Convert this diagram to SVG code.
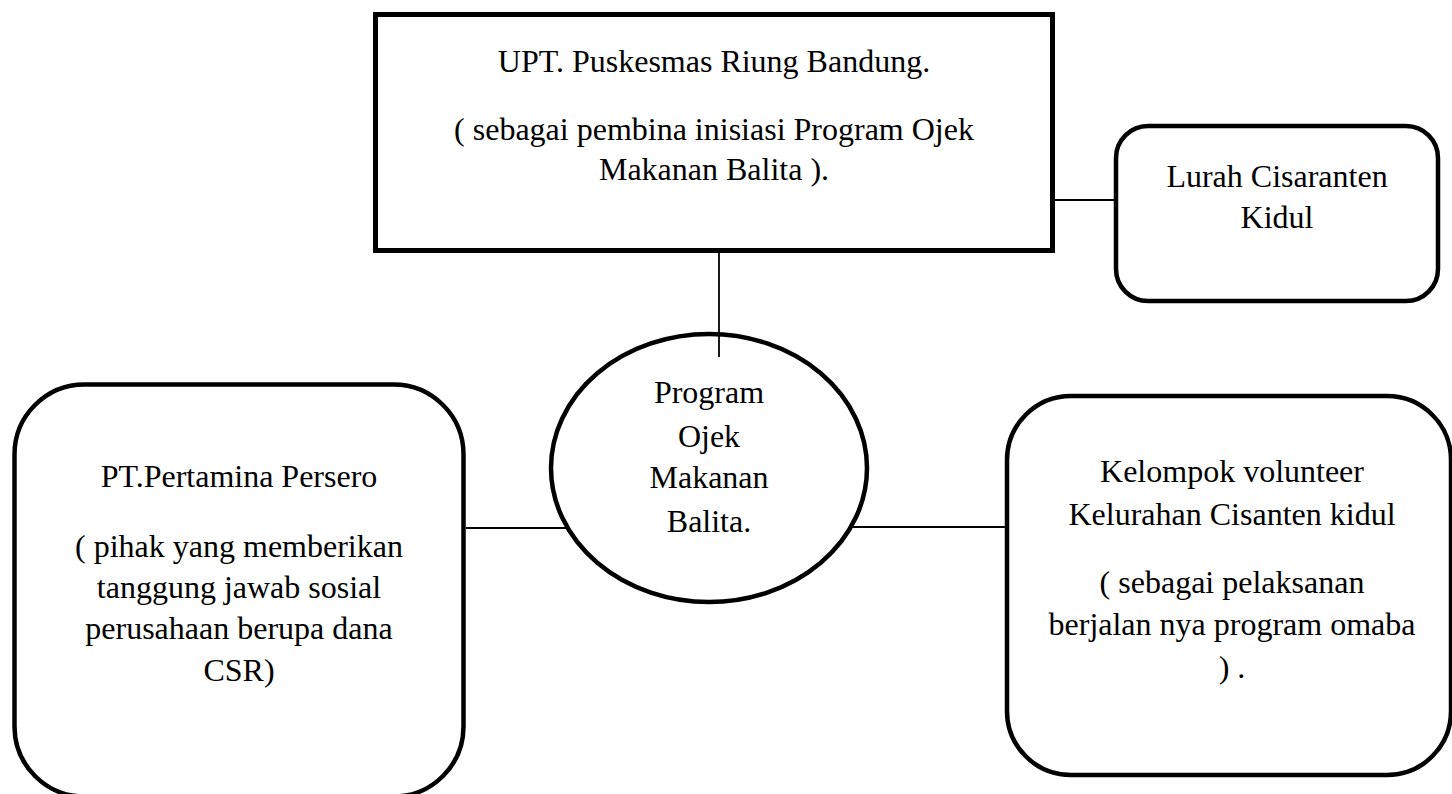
<svg xmlns="http://www.w3.org/2000/svg" width="1452" height="794" viewBox="0 0 1452 794">
<style>
.box{fill:#fff;stroke:#000;stroke-width:4.5}
.conn line{stroke:#000;stroke-width:1.8}
text{font-family:"Liberation Serif",Tinos,"Times New Roman","DejaVu Serif",serif;font-size:32px;fill:#000;text-anchor:middle}
</style>
<rect width="1452" height="794" fill="#fff"/>
<g id="node-upt">
<rect class="box" x="375.5" y="14.5" width="677" height="236" style="stroke-width:5"/>
<text x="714" y="72">UPT. Puskesmas Riung Bandung.</text>
<text x="714" y="140">( sebagai pembina inisiasi Program Ojek</text>
<text x="714" y="180">Makanan Balita ).</text>
</g>
<g id="node-lurah">
<rect class="box" x="1116" y="126" width="322" height="175" rx="32"/>
<text x="1277" y="187">Lurah Cisaranten</text>
<text x="1277" y="228">Kidul</text>
</g>
<g id="node-program">
<ellipse class="box" cx="709" cy="468" rx="158" ry="134"/>
<text x="709" y="403">Program</text>
<text x="709" y="447">Ojek</text>
<text x="709" y="488">Makanan</text>
<text x="709" y="532">Balita.</text>
</g>
<g id="node-pertamina">
<rect class="box" x="14.5" y="384.5" width="449" height="412" rx="70"/>
<text x="239" y="487">PT.Pertamina Persero</text>
<text x="239" y="557">( pihak yang memberikan</text>
<text x="239" y="598">tanggung jawab sosial</text>
<text x="239" y="639">perusahaan berupa dana</text>
<text x="239" y="681">CSR)</text>
</g>
<g id="node-volunteer">
<rect class="box" x="1007" y="396" width="444" height="379" rx="64"/>
<text x="1232" y="482">Kelompok volunteer</text>
<text x="1232" y="525">Kelurahan Cisanten kidul</text>
<text x="1232" y="593">( sebagai pelaksanan</text>
<text x="1232" y="635">berjalan nya program omaba</text>
<text x="1232" y="678">) .</text>
</g>
<g class="conn" id="connectors">
<line x1="719" y1="253" x2="719" y2="357"/>
<line x1="1055" y1="200" x2="1114" y2="200"/>
<line x1="466" y1="528" x2="569" y2="528"/>
<line x1="849" y1="527" x2="1005" y2="527"/>
</g>
</svg>
